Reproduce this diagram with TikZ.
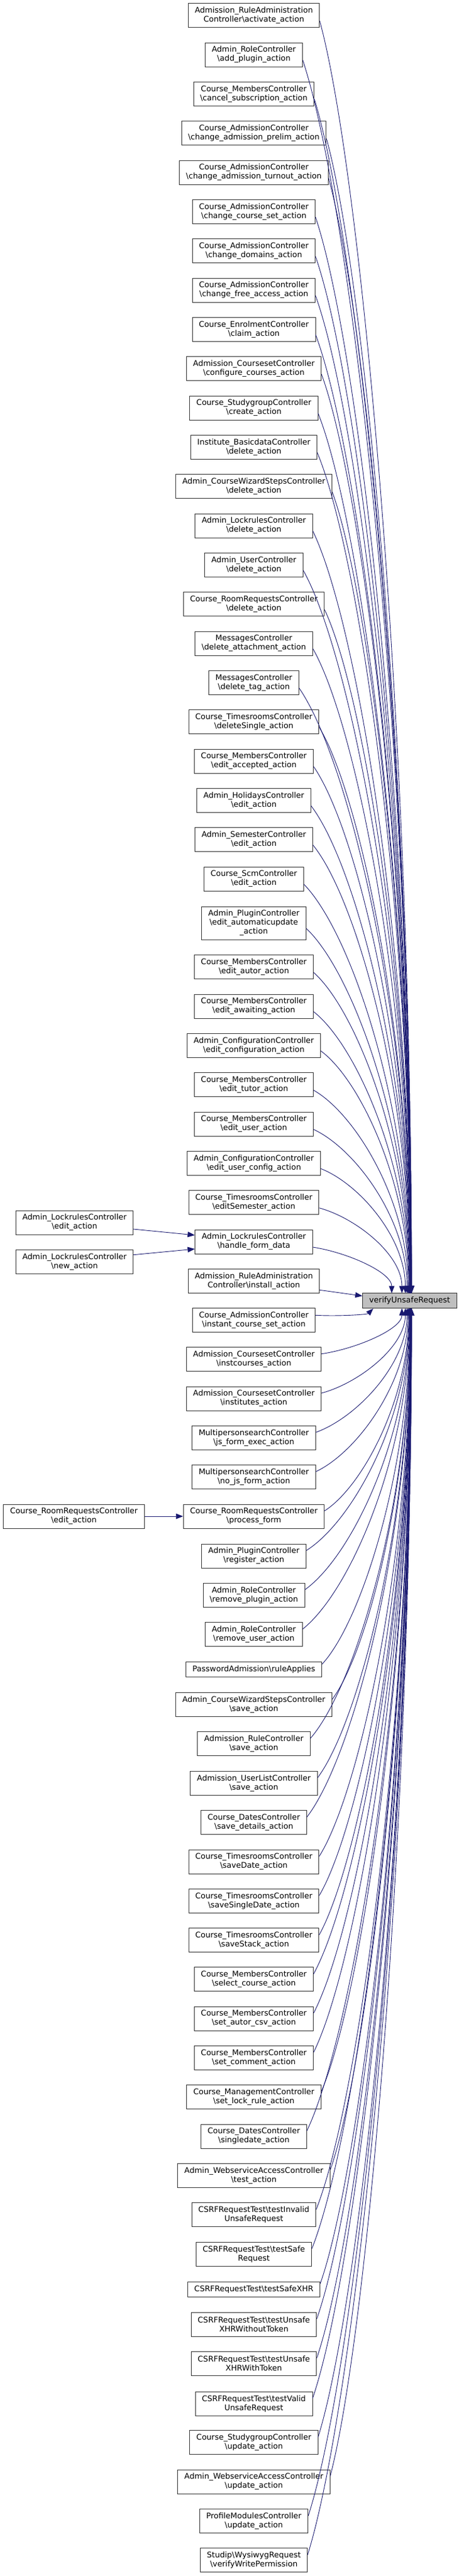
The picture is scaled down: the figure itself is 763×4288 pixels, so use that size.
\documentclass[tikz,border=0pt]{standalone}
\usepackage{fontspec}
\setmainfont{DejaVu Sans}
\usetikzlibrary{arrows.meta,calc}
\definecolor{edgeblue}{HTML}{191970}
\definecolor{boxline}{HTML}{303030}
\definecolor{targetfill}{HTML}{BFBFBF}
\newcommand\bs{\textbackslash}
\newcommand\upE[2]{\draw[edge] let \p1=([yshift=-9pt]#1.east), \p2=({686-34/(#2)},-2152.7) in (\p1) .. controls ({\x1+0.45*(\x2-\x1)},{\y1-0.12*(\y1-\y2)}) and (\x2,{\y2+0.45*(\y1-\y2)}) .. (\p2);}
\newcommand\dnE[2]{\draw[edge] let \p1=([yshift=9pt]#1.east), \p2=({686-34/(#2)},-2177.7) in (\p1) .. controls ({\x1+0.45*(\x2-\x1)},{\y1+0.12*(\y2-\y1)}) and (\x2,{\y2-0.45*(\y2-\y1)}) .. (\p2);}
\begin{document}
\begin{tikzpicture}[x=1pt,y=1pt,
  box/.style={draw=boxline, line width=0.9pt, fill=white, align=center, inner xsep=11pt, inner ysep=0pt, minimum height=40pt, font=\fontsize{13}{15}\selectfont},
  one/.style={box, minimum height=25pt},
  three/.style={box, minimum height=55pt},
  edge/.style={draw=edgeblue, line width=0.9pt, -{Triangle[length=12pt,width=9pt]}}]
\useasboundingbox (0,0) rectangle (763,-4288);
% middle column
\node[box] (m1) at (422.5,-25.7) {Admission\_RuleAdministration\\Controller\bs activate\_action};
\node[box] (m2) at (422.5,-91) {Admin\_RoleController\\\bs add\_plugin\_action};
\node[box] (m3) at (422.5,-156.3) {Course\_MembersController\\\bs cancel\_subscription\_action};
\node[box] (m4) at (422.5,-221.7) {Course\_AdmissionController\\\bs change\_admission\_prelim\_action};
\node[box] (m5) at (422.5,-287) {Course\_AdmissionController\\\bs change\_admission\_turnout\_action};
\node[box] (m6) at (422.5,-352.3) {Course\_AdmissionController\\\bs change\_course\_set\_action};
\node[box] (m7) at (422.5,-417.7) {Course\_AdmissionController\\\bs change\_domains\_action};
\node[box] (m8) at (422.5,-483) {Course\_AdmissionController\\\bs change\_free\_access\_action};
\node[box] (m9) at (422.5,-548.3) {Course\_EnrolmentController\\\bs claim\_action};
\node[box] (m10) at (422.5,-613.7) {Admission\_CoursesetController\\\bs configure\_courses\_action};
\node[box] (m11) at (422.5,-679) {Course\_StudygroupController\\\bs create\_action};
\node[box] (m12) at (422.5,-744.3) {Institute\_BasicdataController\\\bs delete\_action};
\node[box] (m13) at (422.5,-809.7) {Admin\_CourseWizardStepsController\\\bs delete\_action};
\node[box] (m14) at (422.5,-875) {Admin\_LockrulesController\\\bs delete\_action};
\node[box] (m15) at (422.5,-940.3) {Admin\_UserController\\\bs delete\_action};
\node[box] (m16) at (422.5,-1005.7) {Course\_RoomRequestsController\\\bs delete\_action};
\node[box] (m17) at (422.5,-1071) {MessagesController\\\bs delete\_attachment\_action};
\node[box] (m18) at (422.5,-1136.3) {MessagesController\\\bs delete\_tag\_action};
\node[box] (m19) at (422.5,-1201.7) {Course\_TimesroomsController\\\bs deleteSingle\_action};
\node[box] (m20) at (422.5,-1267) {Course\_MembersController\\\bs edit\_accepted\_action};
\node[box] (m21) at (422.5,-1332.3) {Admin\_HolidaysController\\\bs edit\_action};
\node[box] (m22) at (422.5,-1397.7) {Admin\_SemesterController\\\bs edit\_action};
\node[box] (m23) at (422.5,-1463) {Course\_ScmController\\\bs edit\_action};
\node[three] (m24) at (422.5,-1536.5) {Admin\_PluginController\\\bs edit\_automaticupdate\\\_action};
\node[box] (m25) at (422.5,-1609.7) {Course\_MembersController\\\bs edit\_autor\_action};
\node[box] (m26) at (422.5,-1675) {Course\_MembersController\\\bs edit\_awaiting\_action};
\node[box] (m27) at (422.5,-1740.3) {Admin\_ConfigurationController\\\bs edit\_configuration\_action};
\node[box] (m28) at (422.5,-1805.7) {Course\_MembersController\\\bs edit\_tutor\_action};
\node[box] (m29) at (422.5,-1871) {Course\_MembersController\\\bs edit\_user\_action};
\node[box] (m30) at (422.5,-1936.3) {Admin\_ConfigurationController\\\bs edit\_user\_config\_action};
\node[box] (m31) at (422.5,-2001.7) {Course\_TimesroomsController\\\bs editSemester\_action};
\node[box] (m32) at (422.5,-2067) {Admin\_LockrulesController\\\bs handle\_form\_data};
\node[box] (m33) at (422.5,-2132.3) {Admission\_RuleAdministration\\Controller\bs install\_action};
\node[box] (m34) at (422.5,-2197.3) {Course\_AdmissionController\\\bs instant\_course\_set\_action};
\node[box] (m35) at (422.5,-2262.7) {Admission\_CoursesetController\\\bs instcourses\_action};
\node[box] (m36) at (422.5,-2328) {Admission\_CoursesetController\\\bs institutes\_action};
\node[box] (m37) at (422.5,-2393.3) {MultipersonsearchController\\\bs js\_form\_exec\_action};
\node[box] (m38) at (422.5,-2458.7) {MultipersonsearchController\\\bs no\_js\_form\_action};
\node[box] (m39) at (422.5,-2524) {Course\_RoomRequestsController\\\bs process\_form};
\node[box] (m40) at (422.5,-2590) {Admin\_PluginController\\\bs register\_action};
\node[box] (m41) at (422.5,-2655.3) {Admin\_RoleController\\\bs remove\_plugin\_action};
\node[box] (m42) at (422.5,-2720.7) {Admin\_RoleController\\\bs remove\_user\_action};
\node[one] (m43) at (422.5,-2779.2) {PasswordAdmission\bs ruleApplies};
\node[box] (m44) at (422.5,-2837.7) {Admin\_CourseWizardStepsController\\\bs save\_action};
\node[box] (m45) at (422.5,-2902.7) {Admission\_RuleController\\\bs save\_action};
\node[box] (m46) at (422.5,-2968.3) {Admission\_UserListController\\\bs save\_action};
\node[box] (m47) at (422.5,-3033.7) {Course\_DatesController\\\bs save\_details\_action};
\node[box] (m48) at (422.5,-3099) {Course\_TimesroomsController\\\bs saveDate\_action};
\node[box] (m49) at (422.5,-3164.3) {Course\_TimesroomsController\\\bs saveSingleDate\_action};
\node[box] (m50) at (422.5,-3229.7) {Course\_TimesroomsController\\\bs saveStack\_action};
\node[box] (m51) at (422.5,-3294.7) {Course\_MembersController\\\bs select\_course\_action};
\node[box] (m52) at (422.5,-3360) {Course\_MembersController\\\bs set\_autor\_csv\_action};
\node[box] (m53) at (422.5,-3425.3) {Course\_MembersController\\\bs set\_comment\_action};
\node[box] (m54) at (422.5,-3490.7) {Course\_ManagementController\\\bs set\_lock\_rule\_action};
\node[box] (m55) at (422.5,-3556) {Course\_DatesController\\\bs singledate\_action};
\node[box] (m56) at (422.5,-3621.3) {Admin\_WebserviceAccessController\\\bs test\_action};
\node[box] (m57) at (422.5,-3686.7) {CSRFRequestTest\bs testInvalid\\UnsafeRequest};
\node[box] (m58) at (422.5,-3752) {CSRFRequestTest\bs testSafe\\Request};
\node[one] (m59) at (422.5,-3810.5) {CSRFRequestTest\bs testSafeXHR};
\node[box] (m60) at (422.5,-3869) {CSRFRequestTest\bs testUnsafe\\XHRWithoutToken};
\node[box] (m61) at (422.5,-3934.3) {CSRFRequestTest\bs testUnsafe\\XHRWithToken};
\node[box] (m62) at (422.5,-4001) {CSRFRequestTest\bs testValid\\UnsafeRequest};
\node[box] (m63) at (422.5,-4065.7) {Course\_StudygroupController\\\bs update\_action};
\node[box] (m64) at (422.5,-4131) {Admin\_WebserviceAccessController\\\bs update\_action};
\node[box] (m65) at (422.5,-4196.7) {ProfileModulesController\\\bs update\_action};
\node[box] (m66) at (422.5,-4261.7) {Studip\bs WysiwygRequest\\\bs verifyWritePermission};
% left column
\node[box] (l1) at (124,-2035) {Admin\_LockrulesController\\\bs edit\_action};
\node[box] (l2) at (124,-2100.3) {Admin\_LockrulesController\\\bs new\_action};
\node[box] (l3) at (123,-2524) {Course\_RoomRequestsController\\\bs edit\_action};
% target
\node[one, fill=targetfill] (T) at (682,-2165.2) {verifyUnsafeRequest};
% edges
\foreach \k in {1,...,32} {\upE{m\k}{33-\k}}
\foreach \k in {35,...,66} {\dnE{m\k}{\k-33}}
\draw[edge] ([yshift=-15pt]m33.east) -- ([yshift=8pt]T.west);
\draw[edge] ([yshift=8pt]m34.east) .. controls +(40,-2) and +(-10,-10) .. ([xshift=18pt]T.south west);
\draw[edge] ([yshift=-11pt]l1.east) -- ([yshift=11pt]m32.west);
\draw[edge] ([yshift=11.6pt]l2.east) -- ([yshift=-12pt]m32.west);
\draw[edge] (l3.east) -- (m39.west);
\end{tikzpicture}
\end{document}
